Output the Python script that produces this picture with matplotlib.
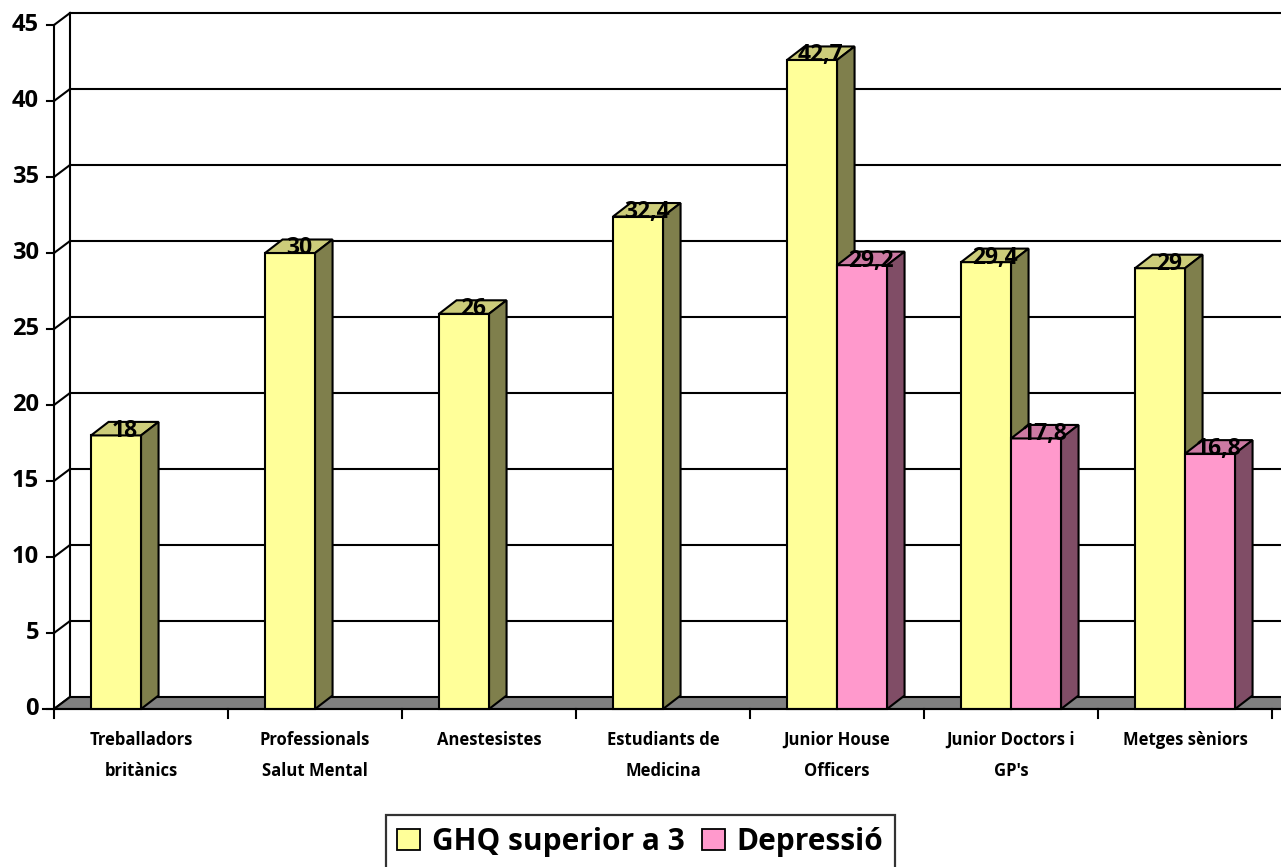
import matplotlib
matplotlib.use("Agg")
import matplotlib.pyplot as plt
from matplotlib.patches import Polygon, Patch

plt.rcParams['font.family'] = ['Open Sans', 'DejaVu Sans']
plt.rcParams['font.weight'] = 'bold'

categories = ["Treballadors\nbritànics", "Professionals\nSalut Mental", "Anestesistes",
              "Estudiants de\nMedicina", "Junior House\nOfficers", "Junior Doctors i\nGP's",
              "Metges sèniors"]
ghq = [18, 30, 26, 32.4, 42.7, 29.4, 29]
depressio = [None, None, None, None, 29.2, 17.8, 16.8]
series_names = ["GHQ superior a 3", "Depressió"]
yticks = [0, 5, 10, 15, 20, 25, 30, 35, 40, 45]

# colours: front face, top face, side face
yellow = ("#FFFF99", "#CCCC7A", "#7F7F4C")
pink = ("#FF99CC", "#CC7AA3", "#804D66")

# scale: 174 px per category, 15.2 px per unit
PX_X, PX_Y = 174.0, 15.2
wall_dx, wall_dy = 16 / PX_X, 12 / PX_Y
bar_dx, bar_dy = 17.5 / PX_X, 13.5 / PX_Y
bar_w = 50 / PX_X
bar_off = 0.213
ymax = 45
n = len(categories)

fig = plt.figure(figsize=(12.81, 8.67), dpi=100)
ax = fig.add_axes([0, 0, 1, 1])
ax.set_xlim(-54 / PX_X, (1281 - 54) / PX_X)
ax.set_ylim((709 - 867) / PX_Y, 709 / PX_Y)
ax.axis('off')
xr = ax.get_xlim()[1]

lw = 1.5
# back wall gridlines and left wall diagonals
for v in yticks:
    if v > 0:
        ax.plot([wall_dx, xr], [v + wall_dy, v + wall_dy], color='black', lw=lw, zorder=1)
    ax.plot([0, wall_dx], [v, v + wall_dy], color='black', lw=lw, zorder=1)
ax.plot([wall_dx, wall_dx], [wall_dy, ymax + wall_dy], color='black', lw=lw, zorder=1)

# floor
ax.add_patch(Polygon([(0, 0), (xr + 1, 0), (xr + 1, wall_dy), (wall_dx, wall_dy)],
                     closed=True, facecolor='#808080', edgecolor='black', lw=lw, zorder=2))

# value axis and category axis
ax.plot([0, 0], [-9 / PX_Y, ymax], color='black', lw=lw, zorder=6)
ax.plot([-11 / PX_X, xr], [0, 0], color='black', lw=lw, zorder=6)
for v in yticks:
    ax.plot([-7 / PX_X, 0], [v, v], color='black', lw=lw, zorder=6)
    ax.text(-15 / PX_X, v, str(v), ha='right', va='center', fontsize=17,
            fontweight='bold', zorder=6)
for i in range(1, n + 1):
    ax.plot([i, i], [0, -9 / PX_Y], color='black', lw=lw, zorder=6)
for i, name in enumerate(categories):
    ax.text(i + 0.5, -22 / PX_Y, name, ha='center', va='top', fontsize=12,
            fontweight='bold', linespacing=1.9, zorder=6)


def bar3d(x0, h, cols):
    front, top, side = cols
    x1 = x0 + bar_w
    ax.add_patch(Polygon([(x0, 0), (x1, 0), (x1, h), (x0, h)], closed=True,
                         facecolor=front, edgecolor='black', lw=lw, zorder=4))
    ax.add_patch(Polygon([(x0, h), (x1, h), (x1 + bar_dx, h + bar_dy), (x0 + bar_dx, h + bar_dy)],
                         closed=True, facecolor=top, edgecolor='black', lw=lw, zorder=4))
    ax.add_patch(Polygon([(x1, 0), (x1 + bar_dx, bar_dy), (x1 + bar_dx, h + bar_dy), (x1, h)],
                         closed=True, facecolor=side, edgecolor='black', lw=lw, zorder=4))
    label = f"{h:g}".replace('.', ',')
    ax.text(x0 + bar_w / 2 + bar_dx / 2, h - 1.5 / PX_Y, label, ha='center', va='baseline',
            fontsize=16.5, fontweight='bold', zorder=8)


for i in range(n):
    bar3d(i + bar_off, ghq[i], yellow)
    if depressio[i] is not None:
        bar3d(i + bar_off + bar_w, depressio[i], pink)

handles = [Patch(facecolor=yellow[0], edgecolor='black', lw=1.3, label=series_names[0]),
           Patch(facecolor=pink[0], edgecolor='black', lw=1.3, label=series_names[1])]
leg = fig.legend(handles=handles, loc='upper center', bbox_to_anchor=(0.5, 1 - 815 / 867),
                 ncol=2, prop={'weight': 'bold', 'size': 21.5},
                 frameon=True, fancybox=False, edgecolor='black',
                 handlelength=0.75, handleheight=0.75, handletextpad=0.4,
                 columnspacing=0.6, borderpad=0.4, borderaxespad=0)
leg.get_frame().set_linewidth(1.6)

fig.savefig("out.png", dpi=100)
